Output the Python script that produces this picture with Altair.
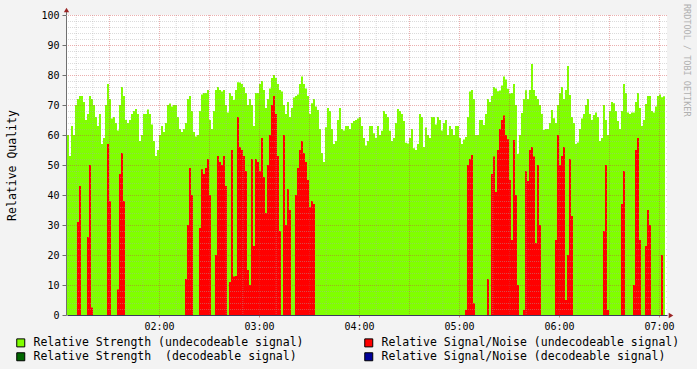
import altair as alt
import pandas as pd

MONO = "DejaVu Sans Mono"

# time axis (minutes after midnight); one sample every 1.2 minutes
START_MIN = 64.8
STEP_MIN = 1.2
N = 300
END_MIN = START_MIN + N * STEP_MIN

# Relative Strength (undecodeable signal)
GREEN = [
    60, 53, 63, 60, 70, 72, 73, 73, 71, 65, 67, 73, 72, 70, 66, 63, 67, 57, 59, 70,
    77, 72, 65.5, 66, 64, 61.5, 70, 76, 73, 65, 64, 65, 67, 68, 68.7, 67, 58, 60, 67, 67,
    68.5, 67, 63.5, 58, 53, 55, 60, 63, 61, 64, 70, 70.5, 69.5, 70, 70, 66, 62, 61, 62, 64,
    72, 73, 68, 61, 59.5, 60, 68, 73.5, 74, 74, 75, 65, 62, 68, 75, 76, 75, 74.5, 75, 70,
    67.5, 74, 73, 71.7, 75, 77.6, 77.5, 77, 76, 74, 70, 72, 70, 63, 74, 74, 77, 78, 75, 69,
    72, 75.5, 79, 80, 79, 77, 75, 74.5, 70, 67, 71, 66, 69, 72.5, 73, 73.5, 77, 79.5, 77, 75.5,
    73, 67, 70.6, 72, 69.5, 68.3, 62, 54, 51, 62.6, 69, 68, 62, 57, 58, 65, 69, 62, 61.5, 63,
    63, 62, 64, 64.7, 65, 65.5, 66, 63, 59, 56.5, 58, 63, 63, 60.6, 59, 63, 60, 61.4, 68, 67,
    66, 61.4, 58, 59, 64, 68.7, 68, 67, 64.7, 57.4, 57.2, 59, 62, 55.6, 55, 57, 67, 66, 56, 62.5,
    60, 59, 66, 66, 63.5, 66, 65, 61.5, 64, 65, 60, 63, 62, 60, 63, 63, 59, 57, 58.5, 59.3,
    66, 74.5, 75, 72, 60, 60, 65, 65, 63.3, 67, 72, 71, 73, 76, 75.5, 74.6, 74.8, 76.5, 79.5, 78.5,
    75.4, 73.8, 74, 77, 70, 53.7, 60, 67.3, 72, 74.9, 72, 75, 83.7, 75, 73, 72, 70, 67, 61.7, 62,
    62, 64, 68.3, 65.6, 64, 70, 74, 76, 72, 75, 83, 73.3, 66, 64, 57, 57.5, 62, 65.5, 67, 70,
    72, 67, 65, 66.7, 67.5, 66, 58, 59, 70, 65, 60, 68, 71, 70.6, 68, 64.7, 62, 68, 77, 74,
    67.5, 67, 67.5, 67.5, 71, 74, 69, 63, 65, 70.3, 73, 73, 68, 67.5, 69.5, 73, 73.5, 72.6, 72.9, None,
]

# Relative Signal/Noise (undecodeable signal)
RED = [
    0, 0, 0, 0, 0, 31, 43, 0, 0, 0, 26, 50, 2.5, 0, 0, 0, 0, 0, 0, 0,
    57, 38, 0, 0, 0, 8.5, 47, 54, 38, 0, 0, 0, 0, 0, 0, 0, 0, 0, 0, 0,
    0, 0, 0, 0, 0, 0, 0, 0, 0, 0, 0, 0, 0, 0, 0, 0, 0, 0, 0, 12,
    30, 49, 40, 0, 0, 0, 29, 48.6, 47, 49, 52, 40, 0, 0, 20, 53, 51, 50, 53, 43,
    0, 11, 55, 12.8, 13, 66, 56, 55, 53, 48, 15, 10, 52, 23, 52, 51, 48, 59, 46, 34,
    50, 60, 70, 73, 67, 53, 28, 0, 60, 30, 42, 35, 0, 0, 40, 49, 55, 58, 54, 51,
    45, 36, 38, 37, 0, 0, 0, 0, 0, 0, 0, 0, 0, 0, 0, 0, 0, 0, 0, 0,
    0, 0, 0, 0, 0, 0, 0, 0, 0, 0, 0, 0, 0, 0, 0, 0, 0, 0, 0, 0,
    0, 0, 0, 0, 0, 0, 0, 0, 0, 0, 0, 0, 0, 0, 0, 0, 0, 0, 0, 0,
    0, 0, 0, 0, 0, 0, 0, 0, 0, 0, 0, 0, 0, 0, 0, 0, 0, 0, 0, 1.7,
    50, 52, 53.3, 3.9, 0, 0, 0, 0, 0, 0, 12, 0, 47, 52.8, 41, 55, 62, 65, 66.5, 60,
    58.6, 45, 25, 58.3, 40, 10, 0, 0, 1.7, 48, 44.7, 55, 56, 52.8, 24, 50, 30, 0, 0, 0,
    0, 0, 0, 0, 25, 60, 50, 53, 56, 5, 20, 52, 33, 0, 0, 0, 0, 0, 0, 0,
    0, 0, 0, 0, 0, 0, 0, 0, 28, 50, 1.7, 0, 0, 0, 0, 0, 0, 37, 48, 0,
    0, 0, 0, 10, 55, 59, 25, 0, 0, 23, 35, 30, 0, 0, 0, 0, 0, 20, 0, 0,
]

SERIES = [
    "Relative Strength (undecodeable signal)",
    "Relative Signal/Noise (undecodeable signal)",
    "Relative Strength \u00a0(decodeable signal)",
    "Relative Signal/Noise (decodeable signal)",
]
COLORS = ["#80FF00", "#FF0000", "#006600", "#000099"]

HOUR_TICKS = [120, 180, 240, 300, 360, 420]
Y_TICKS = list(range(0, 101, 10))
MINOR_Y = [v for v in range(2, 100, 2) if v % 10]
MAJOR_Y = list(range(10, 101, 10))
MINOR_X = [m for m in range(70, 425, 10) if m % 30]
MAJOR_X = list(range(90, 425, 30))

assert len(GREEN) == N and len(RED) == N

rows = []
for i, (g, r) in enumerate(zip(GREEN, RED)):
    t0 = START_MIN + i * STEP_MIN
    t1 = t0 + STEP_MIN
    if g is not None:
        rows.append({"t0": t0, "t1": t1, "v": g, "series": SERIES[0]})
    if r:
        rows.append({"t0": t0, "t1": t1, "v": r, "series": SERIES[1]})
df = pd.DataFrame(rows)

xscale = alt.Scale(domain=[START_MIN, END_MIN], nice=False, zero=False)
yscale = alt.Scale(domain=[0, 100], nice=False, zero=True)

x_axis = alt.Axis(
    values=HOUR_TICKS,
    labelExpr="(datum.value < 600 ? '0' : '') + floor(datum.value / 60) + ':00'",
    grid=False, domainColor="#3a3a5a", tickColor="#d08080", tickSize=2,
    labelPadding=4, labelFont=MONO, labelFontSize=10, labelColor="black",
    labelFlush=False, title=None, zindex=1,
)
y_axis = alt.Axis(
    values=Y_TICKS, grid=False, domainColor="#707070", tickColor="#707070",
    tickSize=4, labelPadding=3, offset=1, labelFont=MONO, labelFontSize=10,
    labelColor="black", title="Relative Quality", titleFont=MONO,
    titleFontSize=11.5, titleFontWeight="normal", titleColor="black",
    titleX=-54, titleY=150, titleAngle=270, titleAlign="center",
    titleBaseline="middle", zindex=1,
)

def X(field):
    return alt.X(field, scale=xscale, axis=x_axis)

def Y(field):
    return alt.Y(field, scale=yscale, axis=y_axis)

color = alt.Color(
    "series:N",
    scale=alt.Scale(domain=SERIES, range=COLORS),
    legend=alt.Legend(
        title=None, orient="none", legendX=-52, legendY=322,
        direction="horizontal", columns=2, columnPadding=58, rowPadding=1,
        gridAlign="each", symbolType="square", symbolSize=64,
        symbolStrokeColor="black", symbolStrokeWidth=1, symbolOpacity=1,
        labelFont=MONO, labelFontSize=11.5, labelColor="black",
        labelLimit=600, labelOffset=7, padding=0,
    ),
)

green = alt.Chart(df).transform_filter(
    alt.datum.series == SERIES[0]
).mark_rect().encode(
    x=X("t0:Q"), x2="t1:Q", y=Y("v:Q"), y2=alt.datum(0), color=color
)
red = alt.Chart(df).transform_filter(
    alt.datum.series == SERIES[1]
).mark_rect().encode(
    x=X("t0:Q"), x2="t1:Q", y=Y("v:Q"), y2=alt.datum(0), color=color
)

def hgrid(vals, col, op):
    return alt.Chart(pd.DataFrame({"g": vals})).mark_rule(
        color=col, opacity=op, strokeDash=[1, 1], strokeWidth=1, yOffset=0.5
    ).encode(y=Y("g:Q"))

def vgrid(vals, col, op):
    return alt.Chart(pd.DataFrame({"g": vals})).mark_rule(
        color=col, opacity=op, strokeDash=[1, 1], strokeWidth=1, xOffset=0.5
    ).encode(x=X("g:Q"))

grid_layers = [
    hgrid(MINOR_Y, "#aaaaaa", 0.42),
    vgrid(MINOR_X, "#aaaaaa", 0.42),
    hgrid(MAJOR_Y, "#d04040", 0.42),
    vgrid(MAJOR_X, "#d04040", 0.42),
]

ends = pd.DataFrame({"t": [START_MIN], "v": [100], "te": [END_MIN], "z": [0]})
y_ext = alt.Chart(ends).mark_rule(
    color="#707070", strokeWidth=1, xOffset=-0.5, y2Offset=-5
).encode(x=X("t:Q"), y=Y("v:Q"), y2="v:Q")
arrow_up = alt.Chart(ends).mark_point(
    shape="triangle-up", filled=True, size=28, color="#9b2525", opacity=1,
    xOffset=-0.5, yOffset=-5
).encode(x=X("t:Q"), y=Y("v:Q"))
arrow_right = alt.Chart(ends).mark_point(
    shape="triangle-right", filled=True, size=28, color="#9b2525", opacity=1,
    xOffset=4, yOffset=0.5
).encode(x=X("te:Q"), y=Y("z:Q"))

chart = alt.layer(
    green, red, *grid_layers, y_ext, arrow_up, arrow_right
).properties(
    width=600,
    height=300,
    padding={"left": 67, "top": 15, "right": 30, "bottom": 54},
    autosize=alt.AutoSizeParams(type="none"),
    background="#F3F3F3",
    title=alt.TitleParams(
        text="RRDTOOL / TOBI OETIKER", orient="right", anchor="start",
        angle=90, font=MONO, fontSize=8.5, fontWeight="normal",
        color="#b0b0b0", offset=2, dx=-11, frame="group",
    ),
).configure_view(fill="white", strokeWidth=0)

chart.save("out.html", embed_options={"renderer": "svg", "actions": False})
